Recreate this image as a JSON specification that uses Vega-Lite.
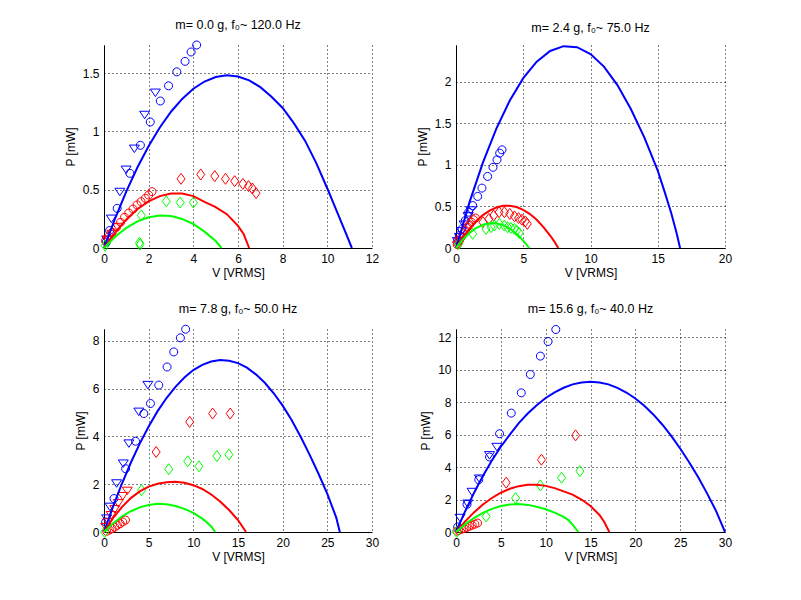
{
  "$schema": "https://vega.github.io/schema/vega-lite/v6.json",
  "background": "white",
  "padding": {"left": 64, "top": 18, "right": 5, "bottom": 5},
  "columns": 2,
  "spacing": {"row": 81, "column": 84},
  "bounds": "flush",
  "datasets": {
    "pts": [
      {"panel": 1, "color": "b", "marker": "o", "V": 4.15, "P": 1.74},
      {"panel": 1, "color": "b", "marker": "o", "V": 3.9, "P": 1.68},
      {"panel": 1, "color": "b", "marker": "o", "V": 3.63, "P": 1.6},
      {"panel": 1, "color": "b", "marker": "o", "V": 3.26, "P": 1.51},
      {"panel": 1, "color": "b", "marker": "o", "V": 2.89, "P": 1.39},
      {"panel": 1, "color": "b", "marker": "o", "V": 2.52, "P": 1.26},
      {"panel": 1, "color": "b", "marker": "o", "V": 2.07, "P": 1.08},
      {"panel": 1, "color": "b", "marker": "o", "V": 1.63, "P": 0.88},
      {"panel": 1, "color": "b", "marker": "o", "V": 1.16, "P": 0.64},
      {"panel": 1, "color": "b", "marker": "o", "V": 0.59, "P": 0.34},
      {"panel": 1, "color": "b", "marker": "o", "V": 0.25, "P": 0.15},
      {"panel": 1, "color": "b", "marker": "o", "V": 0.1, "P": 0.05},
      {"panel": 1, "color": "b", "marker": "v", "V": 2.3, "P": 1.33},
      {"panel": 1, "color": "b", "marker": "v", "V": 1.82, "P": 1.14},
      {"panel": 1, "color": "b", "marker": "v", "V": 1.36, "P": 0.85},
      {"panel": 1, "color": "b", "marker": "v", "V": 0.99, "P": 0.67},
      {"panel": 1, "color": "b", "marker": "v", "V": 0.71, "P": 0.48},
      {"panel": 1, "color": "b", "marker": "v", "V": 0.33, "P": 0.25},
      {"panel": 1, "color": "b", "marker": "v", "V": 0.12, "P": 0.07},
      {"panel": 1, "color": "r", "marker": "o", "V": 2.15, "P": 0.483},
      {"panel": 1, "color": "r", "marker": "o", "V": 2.0, "P": 0.454},
      {"panel": 1, "color": "r", "marker": "o", "V": 1.85, "P": 0.426},
      {"panel": 1, "color": "r", "marker": "o", "V": 1.66, "P": 0.397},
      {"panel": 1, "color": "r", "marker": "o", "V": 1.48, "P": 0.369},
      {"panel": 1, "color": "r", "marker": "o", "V": 1.3, "P": 0.334},
      {"panel": 1, "color": "r", "marker": "o", "V": 1.11, "P": 0.3},
      {"panel": 1, "color": "r", "marker": "o", "V": 0.92, "P": 0.263},
      {"panel": 1, "color": "r", "marker": "o", "V": 0.74, "P": 0.22},
      {"panel": 1, "color": "r", "marker": "o", "V": 0.56, "P": 0.177},
      {"panel": 1, "color": "r", "marker": "o", "V": 0.37, "P": 0.134},
      {"panel": 1, "color": "r", "marker": "o", "V": 0.22, "P": 0.1},
      {"panel": 1, "color": "r", "marker": "o", "V": 0.07, "P": 0.063},
      {"panel": 1, "color": "r", "marker": "v", "V": 0.15, "P": 0.07},
      {"panel": 1, "color": "r", "marker": "v", "V": 0.35, "P": 0.12},
      {"panel": 1, "color": "r", "marker": "v", "V": 0.6, "P": 0.18},
      {"panel": 1, "color": "r", "marker": "d", "V": 3.45, "P": 0.593},
      {"panel": 1, "color": "r", "marker": "d", "V": 4.33, "P": 0.63},
      {"panel": 1, "color": "r", "marker": "d", "V": 4.96, "P": 0.616},
      {"panel": 1, "color": "r", "marker": "d", "V": 5.44, "P": 0.593},
      {"panel": 1, "color": "r", "marker": "d", "V": 5.85, "P": 0.573},
      {"panel": 1, "color": "r", "marker": "d", "V": 6.22, "P": 0.55},
      {"panel": 1, "color": "r", "marker": "d", "V": 6.47, "P": 0.53},
      {"panel": 1, "color": "r", "marker": "d", "V": 6.64, "P": 0.51},
      {"panel": 1, "color": "r", "marker": "d", "V": 6.81, "P": 0.47},
      {"panel": 1, "color": "g", "marker": "d", "V": 2.79, "P": 0.4},
      {"panel": 1, "color": "g", "marker": "d", "V": 3.41, "P": 0.39},
      {"panel": 1, "color": "g", "marker": "d", "V": 4.0, "P": 0.39},
      {"panel": 1, "color": "g", "marker": "d", "V": 1.67, "P": 0.28},
      {"panel": 1, "color": "g", "marker": "d", "V": 1.59, "P": 0.045},
      {"panel": 1, "color": "g", "marker": "d", "V": 1.61, "P": 0.03},
      {"panel": 1, "color": "g", "marker": "d", "V": 0.05, "P": 0.02},

      {"panel": 2, "color": "b", "marker": "o", "V": 3.42, "P": 1.18},
      {"panel": 2, "color": "b", "marker": "o", "V": 3.25, "P": 1.14},
      {"panel": 2, "color": "b", "marker": "o", "V": 3.05, "P": 1.06},
      {"panel": 2, "color": "b", "marker": "o", "V": 2.75, "P": 0.97},
      {"panel": 2, "color": "b", "marker": "o", "V": 2.35, "P": 0.86},
      {"panel": 2, "color": "b", "marker": "o", "V": 1.93, "P": 0.72},
      {"panel": 2, "color": "b", "marker": "o", "V": 1.61, "P": 0.62},
      {"panel": 2, "color": "b", "marker": "o", "V": 1.24, "P": 0.51},
      {"panel": 2, "color": "b", "marker": "o", "V": 0.94, "P": 0.43},
      {"panel": 2, "color": "b", "marker": "o", "V": 0.69, "P": 0.33},
      {"panel": 2, "color": "b", "marker": "o", "V": 0.45, "P": 0.23},
      {"panel": 2, "color": "b", "marker": "o", "V": 0.25, "P": 0.15},
      {"panel": 2, "color": "b", "marker": "o", "V": 0.12, "P": 0.09},
      {"panel": 2, "color": "b", "marker": "v", "V": 1.1, "P": 0.45},
      {"panel": 2, "color": "b", "marker": "v", "V": 0.9, "P": 0.38},
      {"panel": 2, "color": "b", "marker": "v", "V": 0.6, "P": 0.28},
      {"panel": 2, "color": "b", "marker": "v", "V": 0.4, "P": 0.2},
      {"panel": 2, "color": "b", "marker": "v", "V": 0.25, "P": 0.13},
      {"panel": 2, "color": "b", "marker": "v", "V": 0.1, "P": 0.08},
      {"panel": 2, "color": "r", "marker": "o", "V": 1.45, "P": 0.36},
      {"panel": 2, "color": "r", "marker": "o", "V": 1.3, "P": 0.34},
      {"panel": 2, "color": "r", "marker": "o", "V": 1.15, "P": 0.31},
      {"panel": 2, "color": "r", "marker": "o", "V": 1.0, "P": 0.28},
      {"panel": 2, "color": "r", "marker": "o", "V": 0.85, "P": 0.25},
      {"panel": 2, "color": "r", "marker": "o", "V": 0.7, "P": 0.21},
      {"panel": 2, "color": "r", "marker": "o", "V": 0.55, "P": 0.17},
      {"panel": 2, "color": "r", "marker": "o", "V": 0.4, "P": 0.13},
      {"panel": 2, "color": "r", "marker": "o", "V": 0.25, "P": 0.09},
      {"panel": 2, "color": "r", "marker": "o", "V": 0.1, "P": 0.04},
      {"panel": 2, "color": "r", "marker": "v", "V": 0.1, "P": 0.03},
      {"panel": 2, "color": "r", "marker": "v", "V": 0.3, "P": 0.08},
      {"panel": 2, "color": "r", "marker": "d", "V": 2.0, "P": 0.31},
      {"panel": 2, "color": "r", "marker": "d", "V": 2.45, "P": 0.35},
      {"panel": 2, "color": "r", "marker": "d", "V": 2.8, "P": 0.39},
      {"panel": 2, "color": "r", "marker": "d", "V": 3.2, "P": 0.43},
      {"panel": 2, "color": "r", "marker": "d", "V": 3.6, "P": 0.43},
      {"panel": 2, "color": "r", "marker": "d", "V": 4.0, "P": 0.41},
      {"panel": 2, "color": "r", "marker": "d", "V": 4.35, "P": 0.38},
      {"panel": 2, "color": "r", "marker": "d", "V": 4.65, "P": 0.36},
      {"panel": 2, "color": "r", "marker": "d", "V": 4.9, "P": 0.34},
      {"panel": 2, "color": "r", "marker": "d", "V": 5.15, "P": 0.32},
      {"panel": 2, "color": "r", "marker": "d", "V": 5.3, "P": 0.29},
      {"panel": 2, "color": "g", "marker": "d", "V": 0.2, "P": 0.05},
      {"panel": 2, "color": "g", "marker": "d", "V": 1.24, "P": 0.17},
      {"panel": 2, "color": "g", "marker": "d", "V": 2.23, "P": 0.23},
      {"panel": 2, "color": "g", "marker": "d", "V": 2.6, "P": 0.25},
      {"panel": 2, "color": "g", "marker": "d", "V": 2.85, "P": 0.27},
      {"panel": 2, "color": "g", "marker": "d", "V": 3.22, "P": 0.29},
      {"panel": 2, "color": "g", "marker": "d", "V": 3.59, "P": 0.27},
      {"panel": 2, "color": "g", "marker": "d", "V": 3.84, "P": 0.25},
      {"panel": 2, "color": "g", "marker": "d", "V": 4.09, "P": 0.24},
      {"panel": 2, "color": "g", "marker": "d", "V": 4.34, "P": 0.23},
      {"panel": 2, "color": "g", "marker": "d", "V": 4.51, "P": 0.21},
      {"panel": 2, "color": "g", "marker": "d", "V": 4.7, "P": 0.18},

      {"panel": 3, "color": "b", "marker": "o", "V": 9.14, "P": 8.49},
      {"panel": 3, "color": "b", "marker": "o", "V": 8.55, "P": 8.13},
      {"panel": 3, "color": "b", "marker": "o", "V": 7.81, "P": 7.54},
      {"panel": 3, "color": "b", "marker": "o", "V": 7.06, "P": 6.91},
      {"panel": 3, "color": "b", "marker": "o", "V": 6.13, "P": 6.15},
      {"panel": 3, "color": "b", "marker": "o", "V": 5.2, "P": 5.38},
      {"panel": 3, "color": "b", "marker": "o", "V": 4.46, "P": 4.96},
      {"panel": 3, "color": "b", "marker": "o", "V": 3.53, "P": 3.8},
      {"panel": 3, "color": "b", "marker": "o", "V": 2.42, "P": 2.65},
      {"panel": 3, "color": "b", "marker": "o", "V": 1.12, "P": 1.4},
      {"panel": 3, "color": "b", "marker": "o", "V": 0.19, "P": 0.42},
      {"panel": 3, "color": "b", "marker": "v", "V": 4.91, "P": 6.15},
      {"panel": 3, "color": "b", "marker": "v", "V": 3.9, "P": 5.03},
      {"panel": 3, "color": "b", "marker": "v", "V": 2.79, "P": 3.7},
      {"panel": 3, "color": "b", "marker": "v", "V": 2.16, "P": 2.86},
      {"panel": 3, "color": "b", "marker": "v", "V": 1.41, "P": 2.03},
      {"panel": 3, "color": "b", "marker": "v", "V": 0.67, "P": 1.05},
      {"panel": 3, "color": "b", "marker": "v", "V": 0.3, "P": 0.56},
      {"panel": 3, "color": "r", "marker": "v", "V": 2.6, "P": 1.72},
      {"panel": 3, "color": "r", "marker": "v", "V": 2.1, "P": 1.5},
      {"panel": 3, "color": "r", "marker": "v", "V": 1.6, "P": 1.2},
      {"panel": 3, "color": "r", "marker": "v", "V": 1.2, "P": 0.95},
      {"panel": 3, "color": "r", "marker": "v", "V": 0.8, "P": 0.7},
      {"panel": 3, "color": "r", "marker": "v", "V": 0.45, "P": 0.4},
      {"panel": 3, "color": "r", "marker": "v", "V": 0.2, "P": 0.2},
      {"panel": 3, "color": "r", "marker": "o", "V": 2.4, "P": 0.5},
      {"panel": 3, "color": "r", "marker": "o", "V": 2.1, "P": 0.42},
      {"panel": 3, "color": "r", "marker": "o", "V": 1.8, "P": 0.35},
      {"panel": 3, "color": "r", "marker": "o", "V": 1.5, "P": 0.28},
      {"panel": 3, "color": "r", "marker": "o", "V": 1.2, "P": 0.2},
      {"panel": 3, "color": "r", "marker": "o", "V": 0.9, "P": 0.14},
      {"panel": 3, "color": "r", "marker": "o", "V": 0.6, "P": 0.08},
      {"panel": 3, "color": "r", "marker": "o", "V": 0.3, "P": 0.03},
      {"panel": 3, "color": "r", "marker": "d", "V": 5.84, "P": 3.35},
      {"panel": 3, "color": "r", "marker": "d", "V": 9.59, "P": 4.61},
      {"panel": 3, "color": "r", "marker": "d", "V": 12.16, "P": 4.96},
      {"panel": 3, "color": "r", "marker": "d", "V": 14.13, "P": 4.96},
      {"panel": 3, "color": "g", "marker": "d", "V": 4.2, "P": 1.75},
      {"panel": 3, "color": "g", "marker": "d", "V": 7.25, "P": 2.63},
      {"panel": 3, "color": "g", "marker": "d", "V": 9.37, "P": 2.96},
      {"panel": 3, "color": "g", "marker": "d", "V": 10.63, "P": 2.75},
      {"panel": 3, "color": "g", "marker": "d", "V": 12.64, "P": 3.18},
      {"panel": 3, "color": "g", "marker": "d", "V": 13.98, "P": 3.24},
      {"panel": 3, "color": "g", "marker": "d", "V": 0.07, "P": 0.0},

      {"panel": 4, "color": "b", "marker": "o", "V": 11.13, "P": 12.47},
      {"panel": 4, "color": "b", "marker": "o", "V": 10.27, "P": 11.73},
      {"panel": 4, "color": "b", "marker": "o", "V": 9.41, "P": 10.83},
      {"panel": 4, "color": "b", "marker": "o", "V": 8.29, "P": 9.7},
      {"panel": 4, "color": "b", "marker": "o", "V": 7.28, "P": 8.57},
      {"panel": 4, "color": "b", "marker": "o", "V": 6.16, "P": 7.32},
      {"panel": 4, "color": "b", "marker": "o", "V": 4.86, "P": 6.05},
      {"panel": 4, "color": "b", "marker": "o", "V": 3.74, "P": 4.62},
      {"panel": 4, "color": "b", "marker": "o", "V": 2.54, "P": 3.22},
      {"panel": 4, "color": "b", "marker": "o", "V": 1.23, "P": 1.7},
      {"panel": 4, "color": "b", "marker": "o", "V": 0.19, "P": 0.31},
      {"panel": 4, "color": "b", "marker": "v", "V": 4.56, "P": 5.23},
      {"panel": 4, "color": "b", "marker": "v", "V": 3.74, "P": 4.72},
      {"panel": 4, "color": "b", "marker": "v", "V": 2.61, "P": 3.28},
      {"panel": 4, "color": "b", "marker": "v", "V": 1.79, "P": 2.46},
      {"panel": 4, "color": "b", "marker": "v", "V": 1.31, "P": 1.74},
      {"panel": 4, "color": "b", "marker": "v", "V": 0.45, "P": 0.86},
      {"panel": 4, "color": "r", "marker": "o", "V": 2.4, "P": 0.55},
      {"panel": 4, "color": "r", "marker": "o", "V": 2.1, "P": 0.48},
      {"panel": 4, "color": "r", "marker": "o", "V": 1.8, "P": 0.42},
      {"panel": 4, "color": "r", "marker": "o", "V": 1.5, "P": 0.35},
      {"panel": 4, "color": "r", "marker": "o", "V": 1.2, "P": 0.28},
      {"panel": 4, "color": "r", "marker": "o", "V": 0.9, "P": 0.22},
      {"panel": 4, "color": "r", "marker": "o", "V": 0.6, "P": 0.16},
      {"panel": 4, "color": "r", "marker": "o", "V": 0.3, "P": 0.1},
      {"panel": 4, "color": "r", "marker": "o", "V": 0.1, "P": 0.05},
      {"panel": 4, "color": "r", "marker": "d", "V": 13.34, "P": 5.95},
      {"panel": 4, "color": "r", "marker": "d", "V": 9.53, "P": 4.45},
      {"panel": 4, "color": "r", "marker": "d", "V": 5.6, "P": 3.04},
      {"panel": 4, "color": "g", "marker": "d", "V": 13.82, "P": 3.75},
      {"panel": 4, "color": "g", "marker": "d", "V": 11.77, "P": 3.34},
      {"panel": 4, "color": "g", "marker": "d", "V": 9.41, "P": 2.87},
      {"panel": 4, "color": "g", "marker": "d", "V": 6.65, "P": 2.09},
      {"panel": 4, "color": "g", "marker": "d", "V": 3.36, "P": 0.96},
      {"panel": 4, "color": "g", "marker": "d", "V": 0.07, "P": 0.0}
    ],
    "crv": [
      {"panel": 1, "color": "b", "V": 0, "P": 0},
      {"panel": 1, "color": "b", "V": 0.5, "P": 0.255},
      {"panel": 1, "color": "b", "V": 1, "P": 0.485},
      {"panel": 1, "color": "b", "V": 1.5, "P": 0.692},
      {"panel": 1, "color": "b", "V": 2, "P": 0.875},
      {"panel": 1, "color": "b", "V": 2.5, "P": 1.033},
      {"panel": 1, "color": "b", "V": 3, "P": 1.168},
      {"panel": 1, "color": "b", "V": 3.5, "P": 1.278},
      {"panel": 1, "color": "b", "V": 4, "P": 1.365},
      {"panel": 1, "color": "b", "V": 4.5, "P": 1.427},
      {"panel": 1, "color": "b", "V": 5, "P": 1.466},
      {"panel": 1, "color": "b", "V": 5.5, "P": 1.48},
      {"panel": 1, "color": "b", "V": 6, "P": 1.47},
      {"panel": 1, "color": "b", "V": 6.5, "P": 1.437},
      {"panel": 1, "color": "b", "V": 7, "P": 1.379},
      {"panel": 1, "color": "b", "V": 7.5, "P": 1.297},
      {"panel": 1, "color": "b", "V": 8, "P": 1.2},
      {"panel": 1, "color": "b", "V": 8.5, "P": 1.07},
      {"panel": 1, "color": "b", "V": 9, "P": 0.92},
      {"panel": 1, "color": "b", "V": 9.5, "P": 0.73},
      {"panel": 1, "color": "b", "V": 10, "P": 0.51},
      {"panel": 1, "color": "b", "V": 10.5, "P": 0.28},
      {"panel": 1, "color": "b", "V": 10.8, "P": 0.14},
      {"panel": 1, "color": "b", "V": 11.1, "P": 0},
      {"panel": 1, "color": "r", "V": 0, "P": 0},
      {"panel": 1, "color": "r", "V": 0.5, "P": 0.133},
      {"panel": 1, "color": "r", "V": 1, "P": 0.245},
      {"panel": 1, "color": "r", "V": 1.5, "P": 0.334},
      {"panel": 1, "color": "r", "V": 2, "P": 0.4},
      {"panel": 1, "color": "r", "V": 2.5, "P": 0.445},
      {"panel": 1, "color": "r", "V": 3, "P": 0.467},
      {"panel": 1, "color": "r", "V": 3.5, "P": 0.467},
      {"panel": 1, "color": "r", "V": 4, "P": 0.445},
      {"panel": 1, "color": "r", "V": 4.5, "P": 0.395},
      {"panel": 1, "color": "r", "V": 5, "P": 0.35},
      {"panel": 1, "color": "r", "V": 5.5, "P": 0.29},
      {"panel": 1, "color": "r", "V": 6, "P": 0.19},
      {"panel": 1, "color": "r", "V": 6.25, "P": 0.12},
      {"panel": 1, "color": "r", "V": 6.5, "P": 0},
      {"panel": 1, "color": "g", "V": 0, "P": 0},
      {"panel": 1, "color": "g", "V": 0.5, "P": 0.096},
      {"panel": 1, "color": "g", "V": 1, "P": 0.172},
      {"panel": 1, "color": "g", "V": 1.5, "P": 0.228},
      {"panel": 1, "color": "g", "V": 2, "P": 0.264},
      {"panel": 1, "color": "g", "V": 2.5, "P": 0.279},
      {"panel": 1, "color": "g", "V": 3, "P": 0.274},
      {"panel": 1, "color": "g", "V": 3.5, "P": 0.249},
      {"panel": 1, "color": "g", "V": 4, "P": 0.206},
      {"panel": 1, "color": "g", "V": 4.5, "P": 0.14},
      {"panel": 1, "color": "g", "V": 5, "P": 0.06},
      {"panel": 1, "color": "g", "V": 5.26, "P": 0},

      {"panel": 2, "color": "b", "V": 0, "P": 0},
      {"panel": 2, "color": "b", "V": 0.5, "P": 0.27},
      {"panel": 2, "color": "b", "V": 1, "P": 0.548},
      {"panel": 2, "color": "b", "V": 2, "P": 1.027},
      {"panel": 2, "color": "b", "V": 3, "P": 1.435},
      {"panel": 2, "color": "b", "V": 4, "P": 1.773},
      {"panel": 2, "color": "b", "V": 5, "P": 2.042},
      {"panel": 2, "color": "b", "V": 6, "P": 2.24},
      {"panel": 2, "color": "b", "V": 7, "P": 2.368},
      {"panel": 2, "color": "b", "V": 8, "P": 2.426},
      {"panel": 2, "color": "b", "V": 9, "P": 2.414},
      {"panel": 2, "color": "b", "V": 10, "P": 2.332},
      {"panel": 2, "color": "b", "V": 11, "P": 2.18},
      {"panel": 2, "color": "b", "V": 12, "P": 1.958},
      {"panel": 2, "color": "b", "V": 13, "P": 1.67},
      {"panel": 2, "color": "b", "V": 14, "P": 1.33},
      {"panel": 2, "color": "b", "V": 15, "P": 0.93},
      {"panel": 2, "color": "b", "V": 15.5, "P": 0.68},
      {"panel": 2, "color": "b", "V": 16, "P": 0.42},
      {"panel": 2, "color": "b", "V": 16.4, "P": 0.18},
      {"panel": 2, "color": "b", "V": 16.66, "P": 0},
      {"panel": 2, "color": "r", "V": 0, "P": 0},
      {"panel": 2, "color": "r", "V": 0.5, "P": 0.125},
      {"panel": 2, "color": "r", "V": 1, "P": 0.233},
      {"panel": 2, "color": "r", "V": 1.5, "P": 0.323},
      {"panel": 2, "color": "r", "V": 2, "P": 0.396},
      {"panel": 2, "color": "r", "V": 2.5, "P": 0.45},
      {"panel": 2, "color": "r", "V": 3, "P": 0.487},
      {"panel": 2, "color": "r", "V": 3.5, "P": 0.507},
      {"panel": 2, "color": "r", "V": 4, "P": 0.509},
      {"panel": 2, "color": "r", "V": 4.5, "P": 0.493},
      {"panel": 2, "color": "r", "V": 5, "P": 0.459},
      {"panel": 2, "color": "r", "V": 5.5, "P": 0.408},
      {"panel": 2, "color": "r", "V": 6, "P": 0.339},
      {"panel": 2, "color": "r", "V": 6.5, "P": 0.252},
      {"panel": 2, "color": "r", "V": 7, "P": 0.15},
      {"panel": 2, "color": "r", "V": 7.3, "P": 0.08},
      {"panel": 2, "color": "r", "V": 7.6, "P": 0},
      {"panel": 2, "color": "g", "V": 0, "P": 0},
      {"panel": 2, "color": "g", "V": 0.5, "P": 0.1},
      {"panel": 2, "color": "g", "V": 1, "P": 0.18},
      {"panel": 2, "color": "g", "V": 1.5, "P": 0.24},
      {"panel": 2, "color": "g", "V": 2, "P": 0.279},
      {"panel": 2, "color": "g", "V": 2.5, "P": 0.298},
      {"panel": 2, "color": "g", "V": 3, "P": 0.297},
      {"panel": 2, "color": "g", "V": 3.5, "P": 0.275},
      {"panel": 2, "color": "g", "V": 4, "P": 0.234},
      {"panel": 2, "color": "g", "V": 4.5, "P": 0.171},
      {"panel": 2, "color": "g", "V": 5, "P": 0.089},
      {"panel": 2, "color": "g", "V": 5.44, "P": 0},

      {"panel": 3, "color": "b", "V": 0, "P": 0},
      {"panel": 3, "color": "b", "V": 1, "P": 1.05},
      {"panel": 3, "color": "b", "V": 2, "P": 2.02},
      {"panel": 3, "color": "b", "V": 3, "P": 2.9},
      {"panel": 3, "color": "b", "V": 4, "P": 3.7},
      {"panel": 3, "color": "b", "V": 5, "P": 4.42},
      {"panel": 3, "color": "b", "V": 6, "P": 5.06},
      {"panel": 3, "color": "b", "V": 7, "P": 5.61},
      {"panel": 3, "color": "b", "V": 8, "P": 6.08},
      {"panel": 3, "color": "b", "V": 9, "P": 6.47},
      {"panel": 3, "color": "b", "V": 10, "P": 6.78},
      {"panel": 3, "color": "b", "V": 11, "P": 7.0},
      {"panel": 3, "color": "b", "V": 12, "P": 7.14},
      {"panel": 3, "color": "b", "V": 13, "P": 7.2},
      {"panel": 3, "color": "b", "V": 14, "P": 7.17},
      {"panel": 3, "color": "b", "V": 15, "P": 7.07},
      {"panel": 3, "color": "b", "V": 16, "P": 6.88},
      {"panel": 3, "color": "b", "V": 17, "P": 6.6},
      {"panel": 3, "color": "b", "V": 18, "P": 6.25},
      {"panel": 3, "color": "b", "V": 19, "P": 5.81},
      {"panel": 3, "color": "b", "V": 20, "P": 5.29},
      {"panel": 3, "color": "b", "V": 21, "P": 4.69},
      {"panel": 3, "color": "b", "V": 22, "P": 4.0},
      {"panel": 3, "color": "b", "V": 23, "P": 3.25},
      {"panel": 3, "color": "b", "V": 24, "P": 2.45},
      {"panel": 3, "color": "b", "V": 25, "P": 1.6},
      {"panel": 3, "color": "b", "V": 26, "P": 0.6},
      {"panel": 3, "color": "b", "V": 26.4, "P": 0},
      {"panel": 3, "color": "r", "V": 0, "P": 0},
      {"panel": 3, "color": "r", "V": 1, "P": 0.58},
      {"panel": 3, "color": "r", "V": 2, "P": 1.04},
      {"panel": 3, "color": "r", "V": 3, "P": 1.42},
      {"panel": 3, "color": "r", "V": 4, "P": 1.7},
      {"panel": 3, "color": "r", "V": 5, "P": 1.9},
      {"panel": 3, "color": "r", "V": 6, "P": 2.02},
      {"panel": 3, "color": "r", "V": 7, "P": 2.08},
      {"panel": 3, "color": "r", "V": 8, "P": 2.1},
      {"panel": 3, "color": "r", "V": 9, "P": 2.06},
      {"panel": 3, "color": "r", "V": 10, "P": 1.96},
      {"panel": 3, "color": "r", "V": 11, "P": 1.8},
      {"panel": 3, "color": "r", "V": 12, "P": 1.57},
      {"panel": 3, "color": "r", "V": 13, "P": 1.28},
      {"panel": 3, "color": "r", "V": 14, "P": 0.92},
      {"panel": 3, "color": "r", "V": 15, "P": 0.5},
      {"panel": 3, "color": "r", "V": 15.9, "P": 0},
      {"panel": 3, "color": "g", "V": 0, "P": 0},
      {"panel": 3, "color": "g", "V": 1, "P": 0.36},
      {"panel": 3, "color": "g", "V": 2, "P": 0.65},
      {"panel": 3, "color": "g", "V": 3, "P": 0.87},
      {"panel": 3, "color": "g", "V": 4, "P": 1.03},
      {"panel": 3, "color": "g", "V": 5, "P": 1.13},
      {"panel": 3, "color": "g", "V": 6, "P": 1.18},
      {"panel": 3, "color": "g", "V": 7, "P": 1.16},
      {"panel": 3, "color": "g", "V": 8, "P": 1.09},
      {"panel": 3, "color": "g", "V": 9, "P": 0.97},
      {"panel": 3, "color": "g", "V": 10, "P": 0.8},
      {"panel": 3, "color": "g", "V": 11, "P": 0.56},
      {"panel": 3, "color": "g", "V": 11.5, "P": 0.41},
      {"panel": 3, "color": "g", "V": 12, "P": 0.23},
      {"panel": 3, "color": "g", "V": 12.45, "P": 0},

      {"panel": 4, "color": "b", "V": 0, "P": 0},
      {"panel": 4, "color": "b", "V": 1, "P": 1.25},
      {"panel": 4, "color": "b", "V": 2, "P": 2.4},
      {"panel": 4, "color": "b", "V": 3, "P": 3.45},
      {"panel": 4, "color": "b", "V": 4, "P": 4.4},
      {"panel": 4, "color": "b", "V": 5, "P": 5.25},
      {"panel": 4, "color": "b", "V": 6, "P": 6.0},
      {"panel": 4, "color": "b", "V": 7, "P": 6.7},
      {"panel": 4, "color": "b", "V": 8, "P": 7.3},
      {"panel": 4, "color": "b", "V": 9, "P": 7.8},
      {"panel": 4, "color": "b", "V": 10, "P": 8.25},
      {"panel": 4, "color": "b", "V": 11, "P": 8.6},
      {"panel": 4, "color": "b", "V": 12, "P": 8.88},
      {"panel": 4, "color": "b", "V": 13, "P": 9.09},
      {"panel": 4, "color": "b", "V": 14, "P": 9.21},
      {"panel": 4, "color": "b", "V": 15, "P": 9.25},
      {"panel": 4, "color": "b", "V": 16, "P": 9.21},
      {"panel": 4, "color": "b", "V": 17, "P": 9.09},
      {"panel": 4, "color": "b", "V": 18, "P": 8.88},
      {"panel": 4, "color": "b", "V": 19, "P": 8.59},
      {"panel": 4, "color": "b", "V": 20, "P": 8.22},
      {"panel": 4, "color": "b", "V": 21, "P": 7.77},
      {"panel": 4, "color": "b", "V": 22, "P": 7.24},
      {"panel": 4, "color": "b", "V": 23, "P": 6.62},
      {"panel": 4, "color": "b", "V": 24, "P": 5.92},
      {"panel": 4, "color": "b", "V": 25, "P": 5.14},
      {"panel": 4, "color": "b", "V": 26, "P": 4.3},
      {"panel": 4, "color": "b", "V": 27, "P": 3.38},
      {"panel": 4, "color": "b", "V": 28, "P": 2.38},
      {"panel": 4, "color": "b", "V": 29, "P": 1.3},
      {"panel": 4, "color": "b", "V": 29.5, "P": 0.65},
      {"panel": 4, "color": "b", "V": 30, "P": 0},
      {"panel": 4, "color": "r", "V": 0, "P": 0},
      {"panel": 4, "color": "r", "V": 1, "P": 0.643},
      {"panel": 4, "color": "r", "V": 2, "P": 1.206},
      {"panel": 4, "color": "r", "V": 3, "P": 1.69},
      {"panel": 4, "color": "r", "V": 4, "P": 2.093},
      {"panel": 4, "color": "r", "V": 5, "P": 2.417},
      {"panel": 4, "color": "r", "V": 6, "P": 2.66},
      {"panel": 4, "color": "r", "V": 7, "P": 2.824},
      {"panel": 4, "color": "r", "V": 8, "P": 2.908},
      {"panel": 4, "color": "r", "V": 9, "P": 2.912},
      {"panel": 4, "color": "r", "V": 10, "P": 2.84},
      {"panel": 4, "color": "r", "V": 11, "P": 2.7},
      {"panel": 4, "color": "r", "V": 12, "P": 2.5},
      {"panel": 4, "color": "r", "V": 13, "P": 2.3},
      {"panel": 4, "color": "r", "V": 14, "P": 2.0},
      {"panel": 4, "color": "r", "V": 15, "P": 1.6},
      {"panel": 4, "color": "r", "V": 16, "P": 1.05},
      {"panel": 4, "color": "r", "V": 16.5, "P": 0.65},
      {"panel": 4, "color": "r", "V": 17.1, "P": 0},
      {"panel": 4, "color": "g", "V": 0, "P": 0},
      {"panel": 4, "color": "g", "V": 1, "P": 0.468},
      {"panel": 4, "color": "g", "V": 2, "P": 0.861},
      {"panel": 4, "color": "g", "V": 3, "P": 1.181},
      {"panel": 4, "color": "g", "V": 4, "P": 1.426},
      {"panel": 4, "color": "g", "V": 5, "P": 1.598},
      {"panel": 4, "color": "g", "V": 6, "P": 1.696},
      {"panel": 4, "color": "g", "V": 7, "P": 1.719},
      {"panel": 4, "color": "g", "V": 8, "P": 1.67},
      {"panel": 4, "color": "g", "V": 9, "P": 1.56},
      {"panel": 4, "color": "g", "V": 10, "P": 1.4},
      {"panel": 4, "color": "g", "V": 11, "P": 1.19},
      {"panel": 4, "color": "g", "V": 12, "P": 0.93},
      {"panel": 4, "color": "g", "V": 12.5, "P": 0.75},
      {"panel": 4, "color": "g", "V": 13, "P": 0.45},
      {"panel": 4, "color": "g", "V": 13.64, "P": 0}
    ]
  },
  "concat": [
    {
      "width": 268,
      "height": 203,
      "title": "m= 0.0 g, f₀~ 120.0 Hz",
      "encoding": {
        "x": {"field": "V", "type": "quantitative", "title": "V [VRMS]", "scale": {"domain": [0, 12], "nice": false}, "axis": {"values": [0, 2, 4, 6, 8, 10, 12]}},
        "y": {"field": "P", "type": "quantitative", "title": "P [mW]", "scale": {"domain": [0, 1.74], "nice": false}, "axis": {"values": [0, 0.5, 1, 1.5], "format": "~g"}},
        "color": {"field": "color", "type": "nominal", "scale": {"domain": ["b", "r", "g"], "range": ["#0000ff", "#ff0000", "#00ff00"]}, "legend": null}
      },
      "layer": [
        {
          "data": {"name": "pts"},
          "transform": [{"filter": "datum.panel == 1"}],
          "mark": {"type": "point", "filled": false, "strokeWidth": 1, "size": 100, "opacity": 1},
          "encoding": {"shape": {"field": "marker", "type": "nominal", "scale": {"domain": ["o", "v", "d"], "range": ["M0.8,0A0.8,0.8,0,1,1,-0.8,0A0.8,0.8,0,1,1,0.8,0Z", "M-1,-0.75L1,-0.75L0,0.75Z", "M0,-1.1L0.8,0L0,1.1L-0.8,0Z"]}, "legend": null}}
        },
        {
          "data": {"name": "crv"},
          "transform": [{"filter": "datum.panel == 1"}],
          "mark": {"type": "line", "strokeWidth": 2},
          "encoding": {}
        }
      ]
    },
    {
      "width": 269,
      "height": 203,
      "title": "m= 2.4 g, f₀~ 75.0 Hz",
      "encoding": {
        "x": {"field": "V", "type": "quantitative", "title": "V [VRMS]", "scale": {"domain": [0, 20], "nice": false}, "axis": {"values": [0, 5, 10, 15, 20]}},
        "y": {"field": "P", "type": "quantitative", "title": "P [mW]", "scale": {"domain": [0, 2.44], "nice": false}, "axis": {"values": [0, 0.5, 1, 1.5, 2], "format": "~g"}},
        "color": {"field": "color", "type": "nominal", "scale": {"domain": ["b", "r", "g"], "range": ["#0000ff", "#ff0000", "#00ff00"]}, "legend": null}
      },
      "layer": [
        {
          "data": {"name": "pts"},
          "transform": [{"filter": "datum.panel == 2"}],
          "mark": {"type": "point", "filled": false, "strokeWidth": 1, "size": 100, "opacity": 1},
          "encoding": {"shape": {"field": "marker", "type": "nominal", "scale": {"domain": ["o", "v", "d"], "range": ["M0.8,0A0.8,0.8,0,1,1,-0.8,0A0.8,0.8,0,1,1,0.8,0Z", "M-1,-0.75L1,-0.75L0,0.75Z", "M0,-1.1L0.8,0L0,1.1L-0.8,0Z"]}, "legend": null}}
        },
        {
          "data": {"name": "crv"},
          "transform": [{"filter": "datum.panel == 2"}],
          "mark": {"type": "line", "strokeWidth": 2},
          "encoding": {}
        }
      ]
    },
    {
      "width": 268,
      "height": 203,
      "title": "m= 7.8 g, f₀~ 50.0 Hz",
      "encoding": {
        "x": {"field": "V", "type": "quantitative", "title": "V [VRMS]", "scale": {"domain": [0, 30], "nice": false}, "axis": {"values": [0, 5, 10, 15, 20, 25, 30]}},
        "y": {"field": "P", "type": "quantitative", "title": "P [mW]", "scale": {"domain": [0, 8.5], "nice": false}, "axis": {"values": [0, 2, 4, 6, 8], "format": "~g"}},
        "color": {"field": "color", "type": "nominal", "scale": {"domain": ["b", "r", "g"], "range": ["#0000ff", "#ff0000", "#00ff00"]}, "legend": null}
      },
      "layer": [
        {
          "data": {"name": "pts"},
          "transform": [{"filter": "datum.panel == 3"}],
          "mark": {"type": "point", "filled": false, "strokeWidth": 1, "size": 100, "opacity": 1},
          "encoding": {"shape": {"field": "marker", "type": "nominal", "scale": {"domain": ["o", "v", "d"], "range": ["M0.8,0A0.8,0.8,0,1,1,-0.8,0A0.8,0.8,0,1,1,0.8,0Z", "M-1,-0.75L1,-0.75L0,0.75Z", "M0,-1.1L0.8,0L0,1.1L-0.8,0Z"]}, "legend": null}}
        },
        {
          "data": {"name": "crv"},
          "transform": [{"filter": "datum.panel == 3"}],
          "mark": {"type": "line", "strokeWidth": 2},
          "encoding": {}
        }
      ]
    },
    {
      "width": 269,
      "height": 203,
      "title": "m= 15.6 g, f₀~ 40.0 Hz",
      "encoding": {
        "x": {"field": "V", "type": "quantitative", "title": "V [VRMS]", "scale": {"domain": [0, 30], "nice": false}, "axis": {"values": [0, 5, 10, 15, 20, 25, 30]}},
        "y": {"field": "P", "type": "quantitative", "title": "P [mW]", "scale": {"domain": [0, 12.5], "nice": false}, "axis": {"values": [0, 2, 4, 6, 8, 10, 12], "format": "~g"}},
        "color": {"field": "color", "type": "nominal", "scale": {"domain": ["b", "r", "g"], "range": ["#0000ff", "#ff0000", "#00ff00"]}, "legend": null}
      },
      "layer": [
        {
          "data": {"name": "pts"},
          "transform": [{"filter": "datum.panel == 4"}],
          "mark": {"type": "point", "filled": false, "strokeWidth": 1, "size": 100, "opacity": 1},
          "encoding": {"shape": {"field": "marker", "type": "nominal", "scale": {"domain": ["o", "v", "d"], "range": ["M0.8,0A0.8,0.8,0,1,1,-0.8,0A0.8,0.8,0,1,1,0.8,0Z", "M-1,-0.75L1,-0.75L0,0.75Z", "M0,-1.1L0.8,0L0,1.1L-0.8,0Z"]}, "legend": null}}
        },
        {
          "data": {"name": "crv"},
          "transform": [{"filter": "datum.panel == 4"}],
          "mark": {"type": "line", "strokeWidth": 2},
          "encoding": {}
        }
      ]
    }
  ],
  "resolve": {"scale": {"x": "independent", "y": "independent", "color": "shared", "shape": "shared"}},
  "config": {
    "font": "Liberation Sans",
    "view": {"stroke": null},
    "axis": {
      "domainColor": "black",
      "domainWidth": 1,
      "gridColor": "black",
      "gridDash": [1, 3],
      "gridOpacity": 1,
      "gridWidth": 1,
      "ticks": false,
      "labelColor": "black",
      "labelFont": "Liberation Sans",
      "labelFontSize": 12,
      "labelPadding": 5,
      "labelFlush": false,
      "labelOverlap": false,
      "titleColor": "black",
      "titleFont": "Liberation Sans",
      "titleFontSize": 12,
      "titleFontWeight": "normal"
    },
    "axisX": {"titlePadding": 3},
    "axisY": {"titlePadding": 5},
    "title": {"font": "Liberation Sans", "fontSize": 12.5, "fontWeight": "normal", "color": "black", "offset": 8}
  }
}
